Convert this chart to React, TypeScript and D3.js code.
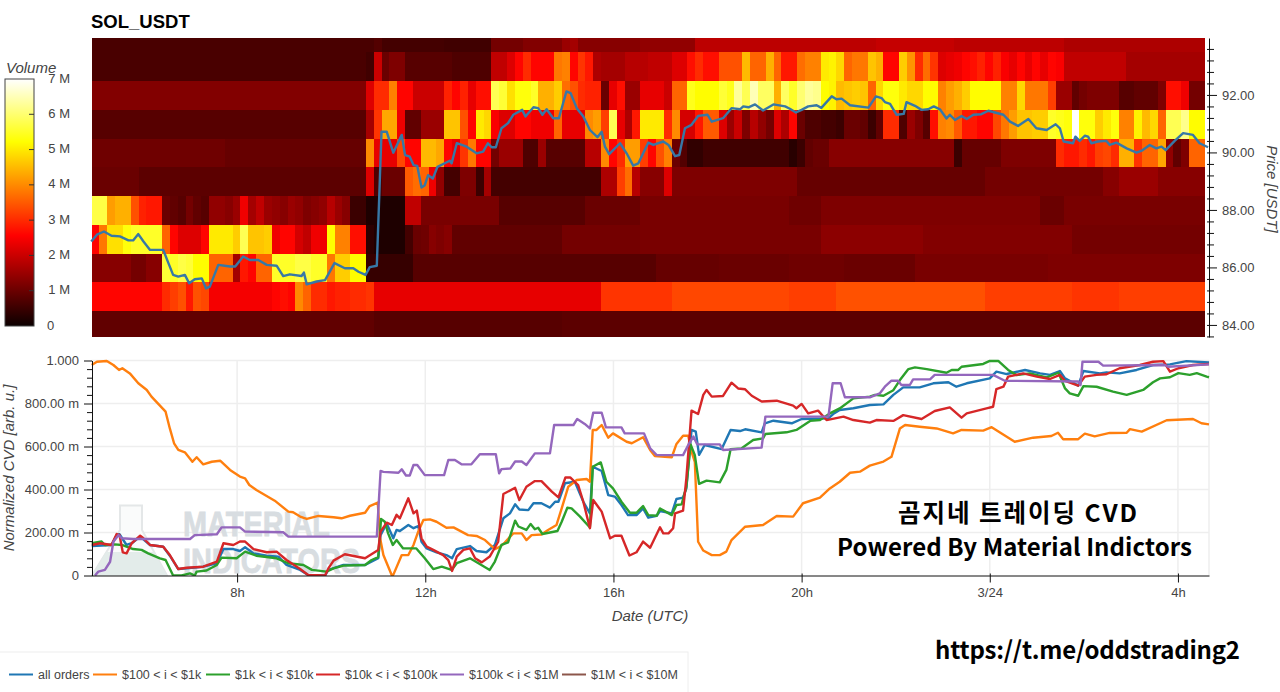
import { useEffect, useRef } from 'react'
import * as d3 from 'd3'

// hours since 3/23 00:00 UTC
const timeDomain = [4.905, 28.66]
const timeTicks = [8, 12, 16, 20, 24, 28]
const timeLabels = ['8h', '12h', '16h', '20h', '3/24', '4h']
const columnCount = 142
const columnHours = 1 / 6

// volume in millions per price bin: [first column, value], value holds until the next entry
const volume94 = [[0, .65], [36, .75], [37, .6], [45, .55], [51, 1.1], [55, 1.25], [60, 1.5], [61, 1.6], [62, 1.3], [70, 1.4], [77, 1.85], [100, 1.95], [110, 1.85], [124, 1.7]]
const volume93 = [[0, .65], [35, .55], [36, 2.0], [37, 1.0], [38, 1.2], [40, .8], [46, .7], [51, 1.9], [53, 2.2], [54, 2.6], [55, 3.0], [56, 2.6], [59, 3.8], [60, 3.9], [61, 2.6], [62, 3.1], [63, 2.8], [64, 1.7], [65, 1.6], [68, 1.8], [71, 1.9], [74, 2.2], [76, 2.7], [77, 3.0], [78, 2.7], [80, 3.4], [83, 4.5], [84, 3.6], [86, 4.4], [87, 3.6], [88, 2.8], [90, 3.7], [91, 3.9], [93, 5.0], [94, 5.1], [95, 4.8], [96, 3.6], [97, 3.8], [99, 4.6], [100, 4.4], [101, 2.6], [103, 4.7], [104, 4.1], [105, 3.0], [106, 3.7], [107, 3.1], [108, 2.2], [109, 2.3], [110, 2.4], [111, 2.6], [112, 2.7], [113, 2.9], [114, 2.6], [115, 2.9], [116, 2.5], [117, 2.3], [118, 2.6], [119, 2.3], [120, 2.6], [121, 2.3], [122, 2.6], [123, 2.5], [124, 1.9], [132, 1.6]]
const volume92 = [[0, 1.25], [35, 2.2], [36, 3.0], [38, 3.9], [39, 2.6], [41, 2.0], [45, 2.9], [46, 2.6], [47, 2.9], [48, 2.3], [49, 2.7], [51, 5.8], [52, 5.6], [53, 4.9], [54, 5.3], [56, 5.5], [57, 4.4], [59, 4.7], [60, 3.7], [61, 3.4], [62, 3.0], [63, 2.9], [65, 1.0], [66, 2.3], [67, 2.7], [68, 1.5], [70, 2.3], [73, 2.0], [74, 3.6], [76, 5.4], [77, 5.2], [80, 5.6], [81, 5.4], [82, 6.3], [83, 5.8], [84, 6.5], [85, 5.9], [87, 4.4], [88, 5.9], [89, 5.5], [90, 6.0], [91, 6.3], [92, 6.2], [93, 5.2], [94, 5.1], [95, 4.5], [96, 4.6], [97, 4.7], [98, 4.6], [99, 3.6], [100, 4.8], [101, 5.3], [103, 5.0], [104, 4.8], [106, 5.2], [108, 3.9], [109, 4.2], [110, 4.4], [111, 4.7], [112, 5.2], [116, 3.9], [118, 4.8], [119, 3.8], [122, 3.2], [123, 1.5], [125, .9], [126, 1.1], [127, 1.2], [131, .8], [133, .9], [136, 1.2], [137, 2.7], [139, 2.4], [140, 1.1]]
const volume91 = [[0, .8], [35, 1.6], [36, 3.1], [37, 4.3], [39, 2.4], [40, .9], [42, 1.5], [45, 4.6], [47, 3.4], [48, 2.6], [49, 5.0], [50, 4.8], [51, 2.5], [52, 2.2], [54, 2.6], [56, 2.4], [59, 3.6], [60, 2.3], [63, 4.0], [64, 4.2], [65, 3.2], [66, 5.8], [67, 2.3], [68, 1.7], [69, 2.8], [70, 5.0], [73, 3.0], [74, 4.0], [75, 2.1], [77, 2.8], [78, 3.5], [80, 2.2], [81, 1.5], [82, 2.0], [83, 1.2], [84, 1.8], [85, 1.4], [86, 1.1], [87, 2.2], [88, 1.7], [89, 2.6], [90, 1.0], [91, .7], [93, .6], [95, .5], [96, 1.0], [98, .9], [99, .5], [100, .9], [101, 3.0], [103, .7], [104, 1.5], [105, 1.2], [106, .8], [107, 2.7], [108, 3.9], [109, 4.0], [110, 3.5], [111, 2.8], [113, 2.6], [115, 3.3], [116, 3.8], [117, 4.2], [118, 4.6], [120, 4.7], [122, 5.5], [123, 5.4], [124, 5.3], [125, 7.0], [126, 5.3], [128, 4.7], [129, 5.0], [130, 5.3], [131, 3.9], [133, 5.1], [134, 4.5], [135, 4.8], [136, 3.6], [137, 5.8], [139, 6.2], [140, 5.2]]
const volume90 = [[0, 1.05], [17, .95], [35, 4.0], [36, 2.3], [39, 3.3], [40, 2.6], [42, 4.5], [44, 4.3], [45, 2.6], [46, 2.3], [47, 3.1], [48, 3.8], [49, 2.6], [51, 1.1], [52, 1.5], [55, .7], [57, 1.5], [58, .8], [63, 1.8], [65, 4.0], [66, 2.6], [67, 3.0], [68, 4.2], [70, 3.2], [71, 2.6], [72, 3.4], [73, 3.9], [74, 1.0], [75, .75], [76, .4], [78, .55], [89, .3], [90, .5], [91, .9], [92, 1.0], [94, 1.3], [110, .5], [111, .95], [116, 1.2], [123, 3.0], [124, 2.8], [126, 3.0], [127, 2.8], [128, 3.2], [129, 3.3], [130, 3.0], [131, 4.4], [133, 3.1], [134, 3.6], [136, 4.3], [137, 1.4], [138, .9], [139, 1.2], [140, 3.6]]
const volume89 = [[0, 1.0], [6, .85], [35, 2.2], [36, .7], [37, 1.0], [40, 3.5], [41, 3.7], [42, 3.6], [43, 2.4], [44, 1.4], [45, .6], [47, 1.2], [49, .5], [50, 1.6], [51, .6], [65, 1.7], [67, 3.2], [68, 3.7], [69, 1.8], [70, 1.3], [73, 2.2], [74, 1.2], [90, .95], [114, 1.1], [129, 1.3], [131, 1.5], [136, 1.3]]
const volume88 = [[0, 5.7], [2, 4.2], [3, 4.4], [5, 3.4], [6, 2.9], [7, 2.8], [9, 1.0], [10, .9], [11, .8], [12, 1.1], [13, .9], [14, .8], [15, 1.4], [17, 1.3], [18, 1.5], [19, 2.4], [20, 1.6], [21, 1.9], [22, 1.5], [23, 1.4], [24, 1.3], [25, 1.5], [26, 1.4], [27, 1.2], [28, 1.3], [29, 1.4], [30, 1.8], [31, 1.5], [32, 1.3], [33, .5], [35, .2], [40, 1.9], [42, 1.15], [52, .8], [63, 1.0], [70, 1.15], [89, 1.05], [93, 1.2], [121, 1.0], [124, 1.15]]
const volume87 = [[0, 2.6], [1, 3.8], [2, 4.9], [4, 5.3], [5, 5.5], [9, 3.6], [10, 2.6], [11, 2.2], [14, 2.6], [15, 5.0], [18, 4.7], [19, 5.8], [20, 4.6], [22, 4.7], [23, 2.4], [24, 2.6], [26, 2.1], [27, 1.9], [28, 2.4], [30, 5.2], [31, 3.9], [33, 2.7], [35, .35], [36, .2], [40, .6], [41, 1.0], [42, 1.05], [43, 1.3], [44, 1.2], [45, 1.3], [46, .9], [60, 1.1], [70, 1.15], [93, 1.35], [106, 1.25], [125, 1.1]]
const volume86 = [[0, 1.3], [5, 1.1], [7, 1.3], [9, 5.6], [10, 5.5], [11, 5.7], [12, 5.6], [13, 5.2], [15, 3.6], [18, 1.6], [19, 2.8], [20, 2.6], [21, 3.6], [23, 5.5], [26, 5.7], [28, 5.5], [30, 3.8], [31, 4.7], [33, 5.2], [35, .45], [41, .8], [72, .95], [80, 1.0], [89, 1.05], [96, 1.0], [105, 1.15], [122, 1.2]]
const volume85 = [[0, 2.6], [9, 3.0], [10, 3.2], [11, 3.4], [12, 2.8], [13, 3.4], [14, 3.3], [15, 2.45], [23, 2.6], [24, 2.7], [25, 2.6], [26, 4.0], [27, 3.6], [28, 3.0], [30, 2.8], [31, 2.9], [33, 3.0], [35, 3.1], [36, 2.3], [65, 3.1], [74, 3.3], [89, 3.2], [95, 3.4], [114, 3.2], [125, 3.1], [131, 3.2]]
const volume84 = [[0, .9], [36, .8], [60, .85]]

const priceBins = [94, 93, 92, 91, 90, 89, 88, 87, 86, 85, 84]
const volumeRows = [volume94, volume93, volume92, volume91, volume90, volume89, volume88, volume87, volume86, volume85, volume84]

const price: [number, number][] = [[4.9, 86.90], [5.02, 87.14], [5.17, 87.25], [5.33, 87.10], [5.51, 87.08], [5.69, 86.94], [5.79, 86.94], [5.90, 87.16], [6.01, 86.90], [6.15, 86.61], [6.43, 86.61], [6.54, 86.15], [6.64, 85.74], [6.75, 85.68], [6.89, 85.74], [6.98, 85.45], [7.10, 85.59], [7.25, 85.62], [7.34, 85.27], [7.42, 85.33], [7.60, 86.09], [7.85, 86.03], [7.96, 86.03], [8.13, 86.38], [8.27, 86.26], [8.45, 86.26], [8.63, 86.09], [8.84, 86.06], [8.98, 85.70], [9.12, 85.76], [9.37, 85.70], [9.42, 85.82], [9.48, 85.41], [9.69, 85.51], [9.87, 85.56], [10.07, 86.15], [10.29, 85.97], [10.47, 85.97], [10.58, 85.85], [10.73, 85.74], [10.82, 86.01], [10.97, 86.06], [11.07, 90.72], [11.18, 90.72], [11.32, 89.99], [11.50, 90.61], [11.57, 89.91], [11.67, 89.85], [11.75, 89.56], [11.83, 89.53], [11.92, 88.78], [11.99, 88.86], [12.06, 89.21], [12.16, 89.09], [12.26, 89.50], [12.52, 89.71], [12.56, 89.62], [12.67, 90.32], [12.88, 90.20], [13.09, 89.97], [13.23, 90.03], [13.33, 90.32], [13.41, 90.18], [13.50, 90.18], [13.62, 90.84], [13.76, 91.02], [13.87, 91.31], [14.06, 91.48], [14.13, 91.25], [14.30, 91.57], [14.40, 91.54], [14.49, 91.31], [14.58, 91.50], [14.72, 91.19], [14.84, 91.19], [15.00, 92.12], [15.09, 92.06], [15.22, 91.54], [15.36, 91.25], [15.50, 90.78], [15.66, 90.53], [15.75, 90.72], [15.82, 90.20], [15.91, 89.94], [16.14, 90.32], [16.28, 89.97], [16.42, 89.54], [16.53, 89.62], [16.74, 90.34], [16.85, 90.26], [17.06, 90.38], [17.17, 90.26], [17.31, 89.87], [17.40, 89.91], [17.52, 90.84], [17.66, 90.96], [17.80, 91.27], [18.0, 91.31], [18.09, 91.07], [18.33, 91.19], [18.51, 91.54], [18.69, 91.50], [18.76, 91.60], [18.87, 91.57], [19.01, 91.67], [19.18, 91.46], [19.40, 91.67], [19.65, 91.60], [19.75, 91.52], [19.88, 91.39], [20.0, 91.48], [20.14, 91.60], [20.32, 91.64], [20.42, 91.55], [20.64, 91.95], [20.74, 91.85], [20.85, 91.87], [21.03, 91.64], [21.42, 91.56], [21.58, 91.95], [21.70, 91.89], [21.77, 91.75], [21.88, 91.69], [22.02, 91.31], [22.17, 91.34], [22.23, 91.75], [22.41, 91.62], [22.55, 91.48], [22.69, 91.50], [22.81, 91.60], [22.94, 91.50], [23.08, 91.18], [23.15, 91.31], [23.26, 91.13], [23.40, 91.27], [23.51, 91.16], [23.65, 91.31], [23.82, 91.33], [23.97, 91.45], [24.29, 91.31], [24.43, 91.07], [24.60, 90.92], [24.82, 91.16], [24.99, 90.84], [25.21, 90.78], [25.40, 90.98], [25.49, 90.84], [25.57, 90.38], [25.77, 90.32], [25.82, 90.55], [25.91, 90.40], [26.02, 90.58], [26.09, 90.55], [26.16, 90.32], [26.30, 90.38], [26.48, 90.40], [26.55, 90.26], [26.69, 90.34], [26.91, 90.14], [27.12, 89.99], [27.23, 90.06], [27.40, 90.26], [27.54, 90.14], [27.65, 90.20], [27.74, 90.08], [27.93, 90.40], [28.11, 90.67], [28.32, 90.61], [28.46, 90.32], [28.64, 90.18]]

// normalized CVD in milli-units: [hour, value]
const allOrders: [number, number][] = [[4.91, 137], [5.33, 142], [5.44, 188], [5.50, 192], [5.65, 142], [5.76, 150], [5.94, 181], [6.15, 142], [6.43, 134], [6.57, 92], [6.75, 30], [7.28, 41], [7.57, 57], [7.71, 123], [7.92, 123], [8.06, 114], [8.17, 131], [8.35, 103], [8.63, 92], [8.88, 88], [9.05, 49], [9.34, 26], [9.51, 2], [9.87, 0], [9.94, 26], [10.26, 49], [10.72, 49], [11.0, 80], [11.05, 188], [11.18, 242], [11.32, 173], [11.39, 212], [11.46, 207], [11.64, 235], [11.75, 220], [11.85, 230], [11.92, 157], [12.03, 126], [12.24, 108], [12.45, 95], [12.57, 80], [12.67, 123], [12.95, 137], [13.09, 114], [13.30, 108], [13.48, 142], [13.66, 266], [13.80, 289], [13.91, 331], [14.0, 307], [14.19, 304], [14.30, 336], [14.47, 336], [14.65, 316], [14.76, 343], [14.83, 343], [14.97, 429], [15.18, 436], [15.36, 343], [15.50, 289], [15.56, 506], [15.75, 486], [15.89, 374], [16.03, 367], [16.17, 328], [16.31, 281], [16.49, 281], [16.63, 312], [16.74, 269], [16.92, 278], [16.99, 300], [17.24, 289], [17.34, 356], [17.48, 362], [17.55, 405], [17.66, 677], [17.75, 669], [17.82, 561], [17.94, 607], [18.30, 588], [18.49, 677], [18.69, 672], [18.80, 680], [19.15, 666], [19.22, 708], [19.40, 720], [19.79, 708], [20.0, 728], [20.57, 731], [20.67, 751], [20.81, 770], [21.10, 778], [21.45, 793], [21.74, 796], [21.95, 840], [22.16, 875], [22.51, 875], [22.80, 894], [23.12, 899], [23.29, 878], [23.51, 894], [24.0, 917], [24.14, 948], [24.36, 937], [24.75, 956], [25.07, 940], [25.28, 933], [25.49, 951], [25.60, 917], [25.88, 883], [25.99, 951], [26.34, 940], [26.48, 945], [26.76, 940], [27.12, 956], [27.47, 979], [27.83, 982], [28.18, 997], [28.66, 991]]
const orders100to1k: [number, number][] = [[4.91, 979], [5.02, 994], [5.23, 998], [5.37, 979], [5.49, 956], [5.56, 964], [5.72, 940], [5.90, 894], [6.08, 863], [6.18, 832], [6.48, 762], [6.57, 684], [6.66, 615], [6.75, 584], [6.89, 573], [7.05, 529], [7.14, 550], [7.28, 517], [7.46, 529], [7.64, 534], [7.85, 491], [8.06, 460], [8.17, 452], [8.26, 421], [8.41, 398], [8.80, 348], [9.09, 297], [9.19, 294], [9.34, 274], [9.48, 263], [9.73, 277], [10.05, 271], [10.22, 266], [10.40, 278], [10.72, 292], [10.82, 323], [10.99, 339], [11.04, 173], [11.11, 95], [11.29, 0], [11.32, 3], [11.50, 95], [11.64, 95], [11.75, 142], [11.85, 204], [11.96, 258], [12.10, 261], [12.24, 250], [12.45, 222], [12.60, 224], [12.91, 188], [13.09, 184], [13.27, 165], [13.48, 123], [13.59, 134], [13.69, 153], [13.87, 196], [14.05, 196], [14.15, 165], [14.26, 188], [14.47, 191], [14.61, 212], [14.79, 235], [14.90, 312], [15.04, 413], [15.22, 444], [15.43, 449], [15.50, 436], [15.56, 677], [15.64, 677], [15.75, 700], [15.89, 641], [15.99, 661], [16.28, 622], [16.39, 615], [16.63, 643], [16.78, 584], [16.88, 556], [17.24, 550], [17.34, 612], [17.48, 650], [17.59, 650], [17.66, 576], [17.73, 529], [17.80, 157], [17.91, 116], [18.09, 95], [18.26, 95], [18.40, 111], [18.51, 165], [18.80, 227], [19.18, 235], [19.47, 277], [19.82, 274], [20.03, 336], [20.39, 362], [20.60, 405], [20.81, 436], [21.03, 478], [21.24, 483], [21.45, 511], [21.74, 530], [21.91, 552], [22.09, 684], [22.20, 700], [22.51, 692], [22.87, 684], [23.22, 661], [23.40, 677], [23.86, 674], [24.04, 690], [24.53, 622], [24.92, 641], [25.31, 649], [25.45, 664], [25.56, 634], [25.88, 634], [26.02, 660], [26.23, 647], [26.55, 663], [26.91, 664], [26.98, 681], [27.23, 669], [27.76, 722], [28.32, 728], [28.50, 708], [28.66, 703]]
const orders1kto10k: [number, number][] = [[4.91, 150], [5.12, 158], [5.19, 142], [5.40, 145], [5.55, 142], [5.79, 123], [5.97, 119], [6.11, 103], [6.36, 80], [6.48, 72], [6.64, 0], [6.82, 0], [7.00, 10], [7.10, 0], [7.14, 18], [7.35, 23], [7.57, 49], [7.67, 83], [7.99, 80], [8.17, 111], [8.41, 92], [8.84, 80], [9.09, 57], [9.41, 49], [9.59, 26], [9.90, 18], [10.05, 33], [10.26, 46], [10.72, 49], [10.86, 72], [11.0, 85], [11.06, 263], [11.14, 250], [11.21, 196], [11.31, 142], [11.39, 165], [11.53, 126], [11.81, 126], [11.99, 80], [12.17, 30], [12.35, 41], [12.56, 26], [12.67, 57], [12.95, 80], [13.13, 57], [13.37, 26], [13.48, 65], [13.62, 142], [13.76, 154], [13.91, 255], [13.98, 228], [14.15, 212], [14.24, 240], [14.33, 215], [14.40, 222], [14.49, 193], [14.81, 207], [14.90, 250], [15.02, 315], [15.11, 312], [15.29, 274], [15.50, 223], [15.56, 506], [15.73, 526], [15.85, 436], [15.99, 405], [16.17, 343], [16.35, 292], [16.49, 292], [16.63, 323], [16.74, 281], [16.92, 278], [16.99, 312], [17.24, 281], [17.34, 328], [17.45, 331], [17.55, 413], [17.64, 610], [17.73, 560], [17.82, 426], [17.98, 441], [18.26, 433], [18.40, 491], [18.49, 587], [18.72, 591], [18.97, 630], [19.18, 638], [19.23, 658], [19.68, 666], [19.89, 677], [20.18, 719], [20.39, 723], [20.60, 754], [20.81, 777], [21.10, 824], [21.45, 832], [21.56, 840], [21.74, 836], [21.95, 862], [22.09, 909], [22.27, 960], [22.41, 968], [22.66, 960], [23.08, 943], [23.19, 956], [23.33, 956], [23.40, 971], [23.86, 984], [24.00, 998], [24.18, 998], [24.39, 956], [24.57, 932], [24.85, 940], [25.21, 921], [25.46, 943], [25.60, 870], [25.70, 847], [25.88, 836], [25.99, 881], [26.27, 878], [26.62, 855], [26.91, 840], [27.26, 863], [27.47, 899], [27.62, 917], [27.83, 922], [28.01, 941], [28.25, 933], [28.40, 941], [28.61, 925], [28.66, 922]]
const orders10kto100k: [number, number][] = [[4.91, 142], [5.09, 150], [5.33, 142], [5.44, 193], [5.50, 188], [5.57, 108], [5.65, 103], [5.76, 150], [5.94, 185], [6.01, 173], [6.15, 142], [6.43, 134], [6.57, 95], [6.75, 30], [6.93, 36], [7.28, 41], [7.57, 64], [7.71, 150], [7.92, 142], [8.06, 158], [8.17, 158], [8.35, 123], [8.63, 108], [8.84, 111], [9.05, 72], [9.34, 30], [9.51, 2], [9.87, 0], [9.94, 33], [10.05, 69], [10.29, 99], [10.72, 80], [11.0, 119], [11.05, 204], [11.18, 246], [11.29, 235], [11.39, 282], [11.46, 266], [11.64, 359], [11.75, 289], [11.82, 302], [11.92, 173], [12.03, 134], [12.17, 119], [12.38, 95], [12.49, 72], [12.57, 21], [12.67, 88], [12.81, 119], [12.95, 126], [13.06, 80], [13.20, 61], [13.37, 88], [13.55, 157], [13.66, 379], [13.91, 408], [14.0, 351], [14.15, 413], [14.33, 439], [14.47, 439], [14.69, 390], [14.83, 363], [14.98, 456], [15.08, 456], [15.25, 420], [15.36, 343], [15.50, 220], [15.57, 351], [15.75, 297], [15.93, 173], [16.03, 185], [16.17, 185], [16.34, 93], [16.49, 108], [16.63, 158], [16.78, 129], [16.99, 224], [17.06, 196], [17.17, 196], [17.27, 220], [17.31, 289], [17.48, 302], [17.55, 452], [17.66, 767], [17.80, 751], [17.91, 840], [17.98, 863], [18.09, 832], [18.33, 835], [18.51, 897], [18.65, 870], [18.80, 866], [18.94, 836], [19.15, 809], [19.47, 813], [19.82, 790], [19.89, 778], [20.0, 798], [20.14, 754], [20.35, 767], [20.53, 723], [20.89, 739], [21.10, 723], [21.45, 711], [21.59, 723], [21.95, 719], [22.16, 746], [22.55, 728], [22.83, 765], [23.15, 782], [23.40, 734], [23.51, 754], [23.93, 777], [24.07, 785], [24.14, 867], [24.29, 878], [24.39, 925], [24.71, 940], [25.0, 925], [25.28, 914], [25.49, 933], [25.60, 905], [25.88, 883], [26.02, 925], [26.27, 933], [26.48, 936], [26.76, 964], [27.19, 979], [27.47, 994], [27.69, 997], [27.83, 948], [28.01, 964], [28.32, 979], [28.66, 984]]
const orders100kto1M: [number, number][] = [[4.98, 0], [5.05, 18], [5.19, 26], [5.30, 64], [5.37, 157], [5.48, 188], [5.55, 173], [5.79, 170], [7.00, 170], [7.10, 188], [7.57, 192], [7.67, 224], [8.06, 224], [8.17, 204], [8.98, 201], [9.09, 181], [10.97, 181], [11.05, 486], [11.11, 482], [11.43, 478], [11.50, 494], [11.59, 465], [11.67, 465], [11.75, 514], [11.83, 514], [11.99, 467], [12.40, 467], [12.49, 537], [12.63, 537], [12.77, 517], [12.98, 517], [13.16, 564], [13.50, 564], [13.57, 475], [13.62, 495], [13.81, 498], [13.91, 530], [14.05, 530], [14.15, 514], [14.33, 568], [14.65, 568], [14.74, 700], [15.15, 700], [15.23, 728], [15.39, 705], [15.50, 684], [15.57, 757], [15.75, 757], [15.84, 689], [16.17, 689], [16.24, 661], [16.65, 661], [16.78, 592], [16.92, 560], [17.48, 560], [17.59, 607], [17.70, 646], [17.78, 610], [18.26, 610], [18.33, 584], [19.15, 595], [19.23, 739], [20.57, 739], [20.66, 894], [20.83, 894], [20.92, 829], [21.45, 829], [21.66, 847], [21.77, 878], [21.91, 906], [22.05, 906], [22.12, 886], [22.30, 886], [22.37, 912], [22.73, 912], [22.83, 933], [24.07, 933], [24.32, 906], [25.88, 902], [25.93, 886], [25.97, 994], [26.31, 994], [26.41, 976], [27.72, 979], [27.79, 971], [28.66, 982]]
const orders1Mto10M: [number, number][] = []

const seriesNames = ['all orders', '$100 < i < $1k', '$1k < i < $10k', '$10k < i < $100k', '$100k < i < $1M', '$1M < i < $10M']
const seriesValues = [allOrders, orders100to1k, orders1kto10k, orders10kto100k, orders100kto1M, orders1Mto10M]
const seriesColors = ['#1f77b4', '#ff7f0e', '#2ca02c', '#d62728', '#9467bd', '#8c564b']
const legendSymbolX = [9, 93, 206, 316, 440, 562]

const volumeTicks = [0, 1, 2, 3, 4, 5, 6, 7]
const priceTicks = [84, 86, 88, 90, 92]
const cvdTicks = [0, 200, 400, 600, 800, 1000]

const FONT = '"Liberation Sans", Arial, sans-serif'
const GREY = '#444444'

const expandRow = (breaks: number[][]) =>
  d3.range(columnCount).map((c) => {
    let value = breaks[0][1]
    for (const b of breaks) if (b[0] <= c) value = b[1]
    return value
  })

export default function App() {
  const ref = useRef<SVGSVGElement>(null)

  useEffect(() => {
    if (!ref.current) return
    const svg = d3.select(ref.current)
    svg.selectAll('*').remove()

    const x = d3.scaleLinear().domain(timeDomain).range([91.5, 1209])
    const yPrice = d3.scaleLinear().domain([83.58, 93.98]).range([337, 38])
    const yCvd = d3.scaleLinear().domain([0, 1000]).range([575.5, 360.5])
    // matplotlib "hot" running over 0 to 7 M
    const hot = d3.scaleLinear<string>()
      .domain([0, 2.555, 5.222, 7])
      .range(['#0b0000', '#ff0000', '#ffff00', '#ffffff'])
      .clamp(true)
    const yVolume = d3.scaleLinear().domain([0, 7]).range([326, 79])

    const defs = svg.append('defs')
    defs.append('clipPath').attr('id', 'cvd-clip').append('rect')
      .attr('x', 91).attr('y', 356).attr('width', 1119).attr('height', 220)
    const gradient = defs.append('linearGradient').attr('id', 'volume-gradient')
      .attr('x1', '0%').attr('y1', '100%').attr('x2', '0%').attr('y2', '0%')
    hot.domain().forEach((d) => {
      gradient.append('stop').attr('offset', `${(d / 7) * 100}%`).attr('stop-color', hot(d))
    })

    svg.append('text').attr('x', 91).attr('y', 28)
      .style('font', `bold 18.5px ${FONT}`).style('fill', '#000').text('SOL_USDT')

    // heatmap, the bins sit a little under the even dollar
    const cells = svg.append('g').attr('shape-rendering', 'crispEdges')
    volumeRows.forEach((breaks, r) => {
      const top = Math.max(yPrice(priceBins[r] + 0.48), yPrice.range()[1])
      const bottom = Math.min(yPrice(priceBins[r] - 0.52), yPrice.range()[0])
      expandRow(breaks).forEach((v, c) => {
        const t0 = timeDomain[0] + c * columnHours
        cells.append('rect')
          .attr('x', x(t0))
          .attr('y', top)
          .attr('width', x(t0 + columnHours) - x(t0) + 0.5)
          .attr('height', bottom - top)
          .attr('fill', hot(v))
      })
    })

    const priceLine = d3.line<[number, number]>().x((d) => x(d[0])).y((d) => yPrice(d[1]))
    svg.append('path').datum(price)
      .attr('fill', 'none').attr('stroke', '#3778a6').attr('stroke-width', 2.4).attr('stroke-linejoin', 'round')
      .attr('d', priceLine)

    // price axis on the right
    const priceMinor = d3.range(84, 94, 0.4).concat([83.6]).filter((d) => !priceTicks.includes(Math.round(d * 10) / 10))
    svg.append('g').attr('transform', 'translate(1209,0)')
      .call(d3.axisRight(yPrice).tickValues(priceMinor).tickSize(5).tickSizeOuter(0).tickFormat(() => ''))
      .call((g) => g.selectAll('line').attr('x1', -2).attr('stroke', '#111'))
      .call((g) => g.select('.domain').attr('stroke', '#111'))
    svg.append('g').attr('transform', 'translate(1209,0)')
      .call(d3.axisRight(yPrice).tickValues(priceTicks).tickSize(8).tickSizeOuter(0).tickPadding(5).tickFormat((d) => (d as number).toFixed(2)))
      .call((g) => g.select('.domain').remove())
      .call((g) => g.selectAll('line').attr('x1', -2).attr('stroke', '#111'))
      .call((g) => g.selectAll('text').style('font', `13px ${FONT}`).style('fill', GREY))
    svg.append('text').attr('transform', 'translate(1267,189) rotate(90)')
      .attr('text-anchor', 'middle')
      .style('font', `italic 15px ${FONT}`).style('fill', GREY).text('Price [USDT]')

    // volume colorbar
    svg.append('rect').attr('x', 5).attr('y', 79).attr('width', 29).attr('height', 247)
      .attr('fill', 'url(#volume-gradient)').attr('stroke', GREY).attr('stroke-width', 1)
    svg.append('g').selectAll('line').data(volumeTicks.slice(1, 7)).join('line')
      .attr('x1', 29).attr('x2', 34).attr('y1', (d) => yVolume(d)).attr('y2', (d) => yVolume(d))
      .attr('stroke', '#333')
    svg.append('g').selectAll('text').data(volumeTicks).join('text')
      .attr('x', (d) => (d === 0 ? 47 : 70))
      .attr('y', (d) => yVolume(d) + 3.5)
      .attr('text-anchor', (d) => (d === 0 ? 'start' : 'end'))
      .style('font', `13px ${FONT}`).style('fill', GREY)
      .text((d) => (d === 0 ? '0' : `${d} M`))
    svg.append('text').attr('x', 6).attr('y', 73)
      .style('font', `italic 15px ${FONT}`).style('fill', GREY).text('Volume')

    // CVD panel, grid first
    const grid = svg.append('g').attr('stroke', '#eeeeee').attr('stroke-width', 1.5)
    grid.selectAll('.h').data(cvdTicks.slice(1)).join('line').attr('class', 'h')
      .attr('x1', 91.5).attr('x2', 1209).attr('y1', (d) => yCvd(d)).attr('y2', (d) => yCvd(d))
    grid.selectAll('.v').data(timeTicks).join('line').attr('class', 'v')
      .attr('x1', (d) => x(d)).attr('x2', (d) => x(d)).attr('y1', 360.5).attr('y2', 575.5)
    grid.append('line').attr('x1', 1209).attr('x2', 1209).attr('y1', 360.5).attr('y2', 575.5)

    // watermark behind the lines
    const mark = svg.append('g').attr('clip-path', 'url(#cvd-clip)')
    mark.append('path')
      .attr('d', 'M120 505.5 L142 505.5 L142 530 L167 575.5 L92 575.5 L120 530 Z')
      .attr('fill', '#fafbfb').attr('stroke', '#e4e7e8').attr('stroke-width', 2)
    mark.append('path').attr('d', 'M106 552 L154 552 L167 575.5 L92 575.5 Z').attr('fill', '#e3ecea')
    mark.append('text').attr('x', 183).attr('y', 536)
      .attr('textLength', 147).attr('lengthAdjust', 'spacingAndGlyphs')
      .attr('stroke', '#d8dde1').attr('stroke-width', 0.8)
      .style('font', `bold 35px ${FONT}`).style('fill', '#d8dde1').text('MATERIAL')
    mark.append('text').attr('x', 183).attr('y', 573)
      .attr('textLength', 177).attr('lengthAdjust', 'spacingAndGlyphs')
      .attr('stroke', '#d8dde1').attr('stroke-width', 0.8)
      .style('font', `bold 35px ${FONT}`).style('fill', '#d8dde1').text('INDICATORS')

    const cvdLine = d3.line<[number, number]>().x((d) => x(d[0])).y((d) => yCvd(d[1]))
    svg.append('g').attr('clip-path', 'url(#cvd-clip)').selectAll('path')
      .data(seriesValues).join('path')
      .attr('fill', 'none').attr('stroke-width', 2.4).attr('stroke-linejoin', 'round')
      .attr('stroke', (_, i) => seriesColors[i])
      .attr('d', (d) => cvdLine(d))

    // CVD left axis
    const cvdMinor = d3.range(0, 1001, 40).filter((d) => d % 200 !== 0)
    svg.append('g').attr('transform', 'translate(92,0)')
      .call(d3.axisLeft(yCvd).tickValues(cvdMinor).tickSize(5).tickSizeOuter(0).tickFormat(() => ''))
      .call((g) => g.selectAll('line').attr('stroke', '#111'))
      .call((g) => g.select('.domain').attr('stroke', '#111'))
    svg.append('g').attr('transform', 'translate(92,0)')
      .call(d3.axisLeft(yCvd).tickValues(cvdTicks).tickSize(8).tickSizeOuter(0).tickPadding(5)
        .tickFormat((d) => (d === 0 ? '0' : d === 1000 ? '1.000' : `${(d as number).toFixed(2)} m`)))
      .call((g) => g.select('.domain').remove())
      .call((g) => g.selectAll('line').attr('stroke', '#111'))
      .call((g) => g.selectAll('text').style('font', `13px ${FONT}`).style('fill', GREY))
    svg.append('text').attr('transform', 'translate(14,468) rotate(-90)')
      .attr('text-anchor', 'middle')
      .style('font', `italic 15px ${FONT}`).style('fill', GREY).text('Normalized CVD [arb. u.]')

    // time axis
    svg.append('g').attr('transform', 'translate(0,575.5)')
      .call(d3.axisBottom(x).tickValues(timeTicks).tickSize(7).tickSizeOuter(0).tickPadding(5)
        .tickFormat((_, i) => timeLabels[i]))
      .call((g) => g.select('.domain').attr('stroke', '#111'))
      .call((g) => g.selectAll('line').attr('y1', -2).attr('stroke', '#111'))
      .call((g) => g.selectAll('text').style('font', `13px ${FONT}`).style('fill', GREY))
    svg.append('text').attr('x', 650).attr('y', 621).attr('text-anchor', 'middle')
      .style('font', `italic 15px ${FONT}`).style('fill', GREY).text('Date (UTC)')

    // legend box runs off the bottom of the page
    svg.append('rect').attr('x', -2).attr('y', 652).attr('width', 690).attr('height', 60)
      .attr('fill', '#fff').attr('stroke', '#eeeeee')
    seriesNames.forEach((name, i) => {
      svg.append('line').attr('x1', legendSymbolX[i]).attr('x2', legendSymbolX[i] + 24)
        .attr('y1', 674.5).attr('y2', 674.5)
        .attr('stroke', seriesColors[i]).attr('stroke-width', 2)
      svg.append('text').attr('x', legendSymbolX[i] + 29).attr('y', 678.5)
        .style('font', `12.5px ${FONT}`).style('fill', GREY).text(name)
    })

    // captions pasted on the picture
    const captionFont = '"Noto Sans CJK KR", "Noto Sans", sans-serif'
    svg.append('text').attr('x', 898).attr('y', 522)
      .attr('textLength', 239).attr('lengthAdjust', 'spacing')
      .style('font', `bold 24.5px ${captionFont}`).style('fill', '#000')
      .text('곰지네 트레이딩 CVD')
    svg.append('text').attr('x', 837).attr('y', 556)
      .attr('textLength', 355).attr('lengthAdjust', 'spacing')
      .style('font', `bold 24px ${captionFont}`).style('fill', '#000')
      .text('Powered By Material Indictors')
    svg.append('text').attr('x', 935).attr('y', 659)
      .attr('textLength', 305).attr('lengthAdjust', 'spacing')
      .style('font', `bold 24px ${captionFont}`).style('fill', '#000')
      .text('https://t.me/oddstrading2')
  }, [])

  return (
    <svg ref={ref} width={1280} height={692}
      style={{ position: 'absolute', left: 0, top: 0, background: '#fff' }} />
  )
}
